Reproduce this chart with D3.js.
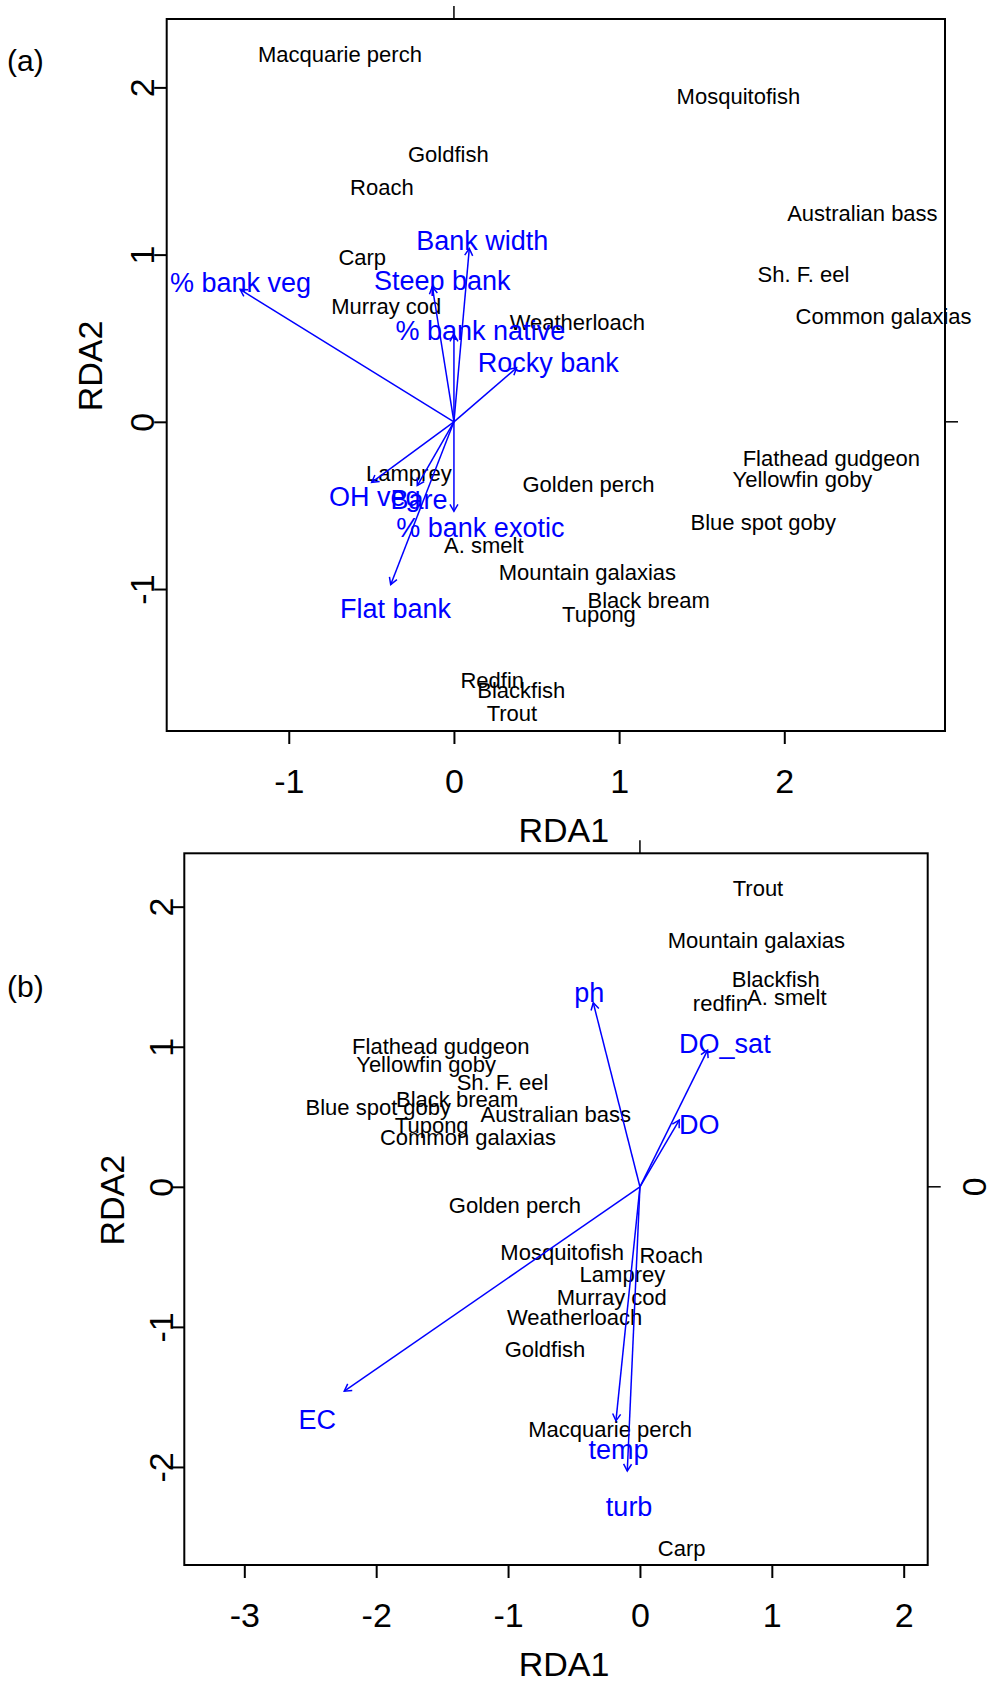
<!DOCTYPE html>
<html>
<head>
<meta charset="utf-8">
<script src="https://cdn.jsdelivr.net/npm/d3@7"></script>
<style>
  body { margin: 0; background: #fff; }
  svg text { font-family: "Liberation Sans", Arial, Helvetica, sans-serif; }
</style>
</head>
<body>
<svg id="chart" width="988" height="1681"></svg>
<script>
// RDA biplots - (a) bank habitat variables, (b) water quality variables

// species scores: [label, RDA1, RDA2]
const speciesA = [
  ['Macquarie perch', -0.690, 2.200],
  ['Goldfish', -0.034, 1.600],
  ['Roach', -0.436, 1.400],
  ['Carp', -0.555, 0.984],
  ['Murray cod', -0.410, 0.690],
  ['Mosquitofish', 1.722, 1.944],
  ['Australian bass', 2.473, 1.246],
  ['Sh. F. eel', 2.116, 0.882],
  ['Common galaxias', 2.601, 0.629],
  ['Weatherloach', 0.747, 0.593],
  ['Lamprey', -0.273, -0.308],
  ['A. smelt', 0.181, -0.740],
  ['Redfin', 0.232, -1.548],
  ['Blackfish', 0.408, -1.603],
  ['Trout', 0.351, -1.741],
  ['Golden perch', 0.815, -0.371],
  ['Flathead gudgeon', 2.285, -0.220],
  ['Yellowfin goby', 2.110, -0.346],
  ['Blue spot goby', 1.873, -0.601],
  ['Mountain galaxias', 0.808, -0.898],
  ['Black bream', 1.179, -1.067],
  ['Tupong', 0.878, -1.152]
];

const speciesB = [
  ['Trout', 0.895, 2.129],
  ['Mountain galaxias', 0.883, 1.762],
  ['Blackfish', 1.030, 1.480],
  ['redfin', 0.610, 1.307],
  ['A. smelt', 1.114, 1.355],
  ['Flathead gudgeon', -1.510, 1.000],
  ['Yellowfin goby', -1.621, 0.878],
  ['Sh. F. eel', -1.042, 0.744],
  ['Black bream', -1.386, 0.625],
  ['Blue spot goby', -1.984, 0.568],
  ['Australian bass', -0.638, 0.517],
  ['Tupong', -1.579, 0.441],
  ['Common galaxias', -1.304, 0.351],
  ['Golden perch', -0.948, -0.129],
  ['Mosquitofish', -0.590, -0.471],
  ['Roach', 0.237, -0.486],
  ['Lamprey', -0.133, -0.627],
  ['Murray cod', -0.214, -0.789],
  ['Weatherloach', -0.495, -0.933],
  ['Goldfish', -0.720, -1.161],
  ['Macquarie perch', -0.226, -1.729],
  ['Carp', 0.316, -2.579]
];

// environmental arrows: [label, tip RDA1, tip RDA2, label RDA1, label RDA2]
const envA = [
  ['% bank veg', -1.295, 0.792, -1.292, 0.831],
  ['Bank width', 0.093, 1.036, 0.171, 1.086],
  ['Steep bank', -0.131, 0.808, -0.071, 0.845],
  ['% bank native', 0.000, 0.523, 0.160, 0.547],
  ['Rocky bank', 0.379, 0.323, 0.571, 0.355],
  ['OH veg', -0.498, -0.362, -0.480, -0.447],
  ['Bare', -0.222, -0.381, -0.211, -0.465],
  ['% bank exotic', 0.000, -0.535, 0.160, -0.633],
  ['Flat bank', -0.383, -0.974, -0.354, -1.118]
];

const envB = [
  ['ph', -0.354, 1.314, -0.385, 1.386],
  ['DO_sat', 0.513, 0.976, 0.644, 1.026],
  ['DO', 0.298, 0.476, 0.449, 0.444],
  ['EC', -2.242, -1.459, -2.447, -1.664],
  ['temp', -0.182, -1.671, -0.163, -1.874],
  ['turb', -0.096, -2.029, -0.082, -2.283]
];

const xTicksA = [-1, 0, 1, 2];
const yTicksA = [-1, 0, 1, 2];
const xTicksB = [-3, -2, -1, 0, 1, 2];
const yTicksB = [-2, -1, 0, 1, 2];

const BLUE = '#0000ff';
const svg = d3.select('#chart');
const fmt = d => String(d); // plain hyphen minus, no decimals

const panels = [
  {
    tag: '(a)', tagY: 71,
    box: { l: 166.7, t: 19, r: 945, b: 731 },
    xDomain: [-1.739, 2.973], yDomain: [-1.849, 2.409],
    xTicks: xTicksA, yTicks: yTicksA,
    species: speciesA, env: envA,
    yLabOff: 13, yTitleOff: 65, rightZero: false
  },
  {
    tag: '(b)', tagY: 997,
    box: { l: 184.3, t: 853.3, r: 927.7, b: 1565 },
    xDomain: [-3.455, 2.182], yDomain: [-2.700, 2.381],
    xTicks: xTicksB, yTicks: yTicksB,
    species: speciesB, env: envB,
    yLabOff: 11.5, yTitleOff: 60.3, rightZero: true
  }
];

function drawPanel(p) {
  const { l, t, r, b } = p.box;
  const x = d3.scaleLinear().domain(p.xDomain).range([l, r]);
  const y = d3.scaleLinear().domain(p.yDomain).range([b, t]);
  const g = svg.append('g');

  // panel tag
  g.append('text')
    .attr('x', 7).attr('y', p.tagY)
    .style('font-size', '30px')
    .text(p.tag);

  // bottom axis
  const xAxis = g.append('g')
    .attr('transform', `translate(0,${b})`)
    .call(d3.axisBottom(x).tickValues(p.xTicks).tickFormat(fmt).tickSize(13).tickSizeOuter(0));
  xAxis.select('.domain').remove();
  xAxis.selectAll('line').attr('stroke', '#000').attr('stroke-width', 2);
  xAxis.selectAll('text')
    .attr('y', 62).attr('dy', 0)
    .attr('fill', '#000')
    .style('font-size', '34px')
    .style('font-family', '"Liberation Sans", Arial, sans-serif');

  // left axis, labels rotated like R's las=0
  const yAxis = g.append('g')
    .attr('transform', `translate(${l},0)`)
    .call(d3.axisLeft(y).tickValues(p.yTicks).tickFormat(fmt).tickSize(12.5).tickSizeOuter(0));
  yAxis.select('.domain').remove();
  yAxis.selectAll('line').attr('stroke', '#000').attr('stroke-width', 2);
  yAxis.selectAll('text')
    .attr('x', 0).attr('y', -p.yLabOff).attr('dy', 0)
    .attr('transform', 'rotate(-90)')
    .attr('text-anchor', 'middle')
    .attr('fill', '#000')
    .style('font-size', '34px')
    .style('font-family', '"Liberation Sans", Arial, sans-serif');

  // stray top / right ticks at zero
  g.append('line')
    .attr('x1', x(0)).attr('x2', x(0))
    .attr('y1', t - 13).attr('y2', t)
    .attr('stroke', '#000').attr('stroke-width', 1.5);
  g.append('line')
    .attr('x1', r).attr('x2', r + 13)
    .attr('y1', y(0)).attr('y2', y(0))
    .attr('stroke', '#000').attr('stroke-width', 1.5);
  if (p.rightZero) {
    g.append('text')
      .attr('transform', `translate(${r + 58},${y(0)}) rotate(-90)`)
      .attr('text-anchor', 'middle')
      .style('font-size', '34px')
      .text('0');
  }

  // box
  g.append('rect')
    .attr('x', l).attr('y', t)
    .attr('width', r - l).attr('height', b - t)
    .attr('fill', 'none')
    .attr('stroke', '#000').attr('stroke-width', 2);

  // axis titles
  g.append('text')
    .attr('x', (l + r) / 2 + 8).attr('y', b + 111)
    .attr('text-anchor', 'middle')
    .style('font-size', '34px')
    .text('RDA1');
  g.append('text')
    .attr('transform', `translate(${l - p.yTitleOff},${(t + b) / 2 - 9}) rotate(-90)`)
    .attr('text-anchor', 'middle')
    .style('font-size', '34px')
    .text('RDA2');

  // species labels
  g.append('g').selectAll('text')
    .data(p.species)
    .join('text')
    .attr('x', d => x(d[1]))
    .attr('y', d => y(d[2]))
    .attr('dy', '0.35em')
    .attr('text-anchor', 'middle')
    .attr('fill', '#000')
    .style('font-size', '22px')
    .text(d => d[0]);

  // biplot arrows
  const arrows = g.append('g')
    .attr('stroke', BLUE).attr('stroke-width', 1.5).attr('fill', 'none');
  arrows.selectAll('line')
    .data(p.env)
    .join('line')
    .attr('x1', x(0)).attr('y1', y(0))
    .attr('x2', d => x(d[1])).attr('y2', d => y(d[2]));

  // open arrowheads, 30 degrees each side
  const headLen = 8;
  arrows.selectAll('path')
    .data(p.env)
    .join('path')
    .attr('d', d => {
      const tx = x(d[1]), ty = y(d[2]);
      const ang = Math.atan2(ty - y(0), tx - x(0));
      const a1 = ang + Math.PI - Math.PI / 6;
      const a2 = ang + Math.PI + Math.PI / 6;
      return `M${tx + headLen * Math.cos(a1)},${ty + headLen * Math.sin(a1)}` +
        `L${tx},${ty}` +
        `L${tx + headLen * Math.cos(a2)},${ty + headLen * Math.sin(a2)}`;
    });

  g.append('g').selectAll('text')
    .data(p.env)
    .join('text')
    .attr('x', d => x(d[3]))
    .attr('y', d => y(d[4]))
    .attr('dy', '0.35em')
    .attr('text-anchor', 'middle')
    .attr('fill', BLUE)
    .style('font-size', '27px')
    .text(d => d[0]);
}

panels.forEach(drawPanel);
</script>
</body>
</html>
